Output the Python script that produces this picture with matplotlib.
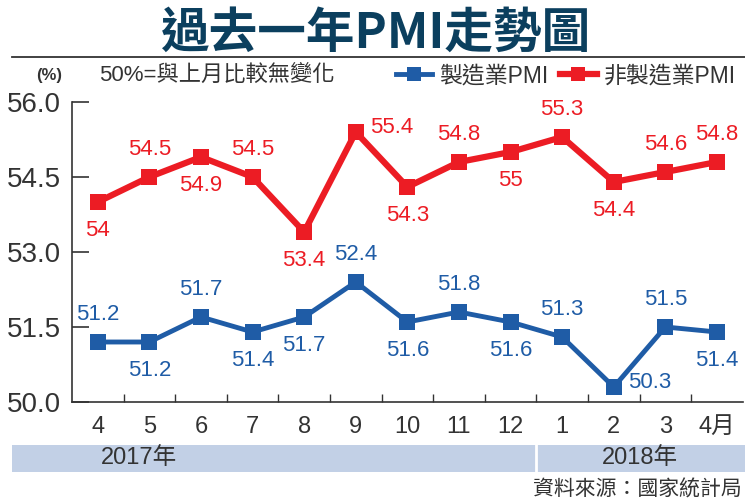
import matplotlib
matplotlib.use('Agg')
import matplotlib.pyplot as plt
from matplotlib import font_manager
from matplotlib.patches import Rectangle
from matplotlib.lines import Line2D
from matplotlib.transforms import blended_transform_factory

months = ['4', '5', '6', '7', '8', '9', '10', '11', '12', '1', '2', '3', '4月']
mfg = [51.2, 51.2, 51.7, 51.4, 51.7, 52.4, 51.6, 51.8, 51.6, 51.3, 50.3, 51.5, 51.4]
non_mfg = [54.0, 54.5, 54.9, 54.5, 53.4, 55.4, 54.3, 54.8, 55.0, 55.3, 54.4, 54.6, 54.8]
mfg_text = ['51.2', '51.2', '51.7', '51.4', '51.7', '52.4', '51.6', '51.8', '51.6', '51.3', '50.3', '51.5', '51.4']
non_text = ['54', '54.5', '54.9', '54.5', '53.4', '55.4', '54.3', '54.8', '55', '55.3', '54.4', '54.6', '54.8']
# where each value label sits: u = above, d = below, r = right
mfg_pos = ['u', 'd', 'u', 'd', 'd', 'u', 'd', 'u', 'd', 'u', 'r', 'u', 'd']
non_pos = ['d', 'u', 'd', 'u', 'd', 'r', 'd', 'u', 'd', 'u', 'd', 'u', 'u']
yticks = [50.0, 51.5, 53.0, 54.5, 56.0]

BLUE = '#1f5ca6'
RED = '#ec1c24'
TITLE = '#0b3f5e'
BAND = '#c2d0e6'
DARK = '#333333'

names = {f.name for f in font_manager.fontManager.ttflist}
LAT = 'Liberation Sans' if 'Liberation Sans' in names else 'DejaVu Sans'
CJK = 'Noto Sans CJK TC'
FAM = [LAT, CJK]
plt.rcParams['font.family'] = FAM

fig = plt.figure(figsize=(7.45, 5.01), dpi=100)
ax = fig.add_axes([0.0966, 0.1976, 0.9004, 0.5988])

x = list(range(len(months)))
ax.plot(x, non_mfg, color=RED, lw=4.5, marker='s', ms=11, mew=0, zorder=3)
ax.plot(x, mfg, color=BLUE, lw=3.5, marker='s', ms=11, mew=0, zorder=3)

offs = {'u': (0, 12, 'center', 'bottom'), 'd': (0, -13, 'center', 'top'),
        'r': (10, 3, 'left', 'center')}
for vals, texts, pos, col in [(mfg, mfg_text, mfg_pos, BLUE),
                              (non_mfg, non_text, non_pos, RED)]:
    for xi, v, t, p in zip(x, vals, texts, pos):
        dx, dy, ha, va = offs[p]
        ax.annotate(t, (xi, v), xytext=(dx, dy), textcoords='offset points',
                    ha=ha, va=va, fontsize=16, color=col)

ax.set_xlim(-0.5, len(months) - 0.5)
ax.set_ylim(50, 56)
ax.set_yticks(yticks)
ax.set_yticklabels([f'{t:.1f}' for t in yticks], fontsize=20, color=DARK)
ax.tick_params(axis='y', direction='in', length=12, width=1.2, color=DARK, pad=8)
ax.set_xticks(x)
ax.set_xticklabels(months, fontsize=17, color=DARK)
ax.tick_params(axis='x', length=0, pad=10)
ax.set_xticks([i + 0.5 for i in x[:-1]], minor=True)
ax.tick_params(axis='x', which='minor', direction='in', length=6, width=1, color=DARK)
for s in ['top', 'right']:
    ax.spines[s].set_visible(False)
for s in ['left', 'bottom']:
    ax.spines[s].set_color(DARK)
    ax.spines[s].set_linewidth(1.2)

# title and rule
fig.text(0.505, 0.934, '過去一年PMI走勢圖', ha='center', va='center',
         fontsize=35, fontweight='bold', color=TITLE, family=[CJK])
fig.add_artist(Line2D([0.016, 1.0], [0.886, 0.886], color=DARK, lw=1.3))

fig.text(0.066, 0.849, '(%)', ha='center', va='center', fontsize=12,
         fontweight='bold', color=DARK)
fig.text(0.133, 0.849, '50%=與上月比較無變化', ha='left', va='center',
         fontsize=16, color=DARK)

handles = [Line2D([], [], color=BLUE, lw=3.5, marker='s', ms=10, mew=0),
           Line2D([], [], color=RED, lw=4.5, marker='s', ms=10, mew=0)]
leg = fig.legend(handles, ['製造業PMI', '非製造業PMI'], loc='center right',
                 bbox_to_anchor=(1.015, 0.849), ncol=2, frameon=False,
                 handlelength=1.6, handletextpad=0.3, columnspacing=0.5,
                 prop={'family': FAM, 'size': 16.5})
for t in leg.get_texts():
    t.set_color(DARK)

# year band below axis
fig.add_artist(Rectangle((0.016, 0.058), 0.984, 0.054, transform=fig.transFigure,
                         facecolor=BAND, edgecolor='none'))
bt = blended_transform_factory(ax.transData, fig.transFigure)
fig.add_artist(Line2D([8.5, 8.5], [0.058, 0.112], transform=bt, color='white', lw=2))
fig.text(0.8, 0.085, '2017年', transform=bt, ha='center', va='center',
         fontsize=17, color=DARK)
fig.text(10.5, 0.085, '2018年', transform=bt, ha='center', va='center',
         fontsize=17, color=DARK)

fig.text(0.995, 0.022, '資料來源：國家統計局', ha='right', va='center',
         fontsize=15, color=DARK, family=[CJK])

fig.savefig('out.png', dpi=100)
